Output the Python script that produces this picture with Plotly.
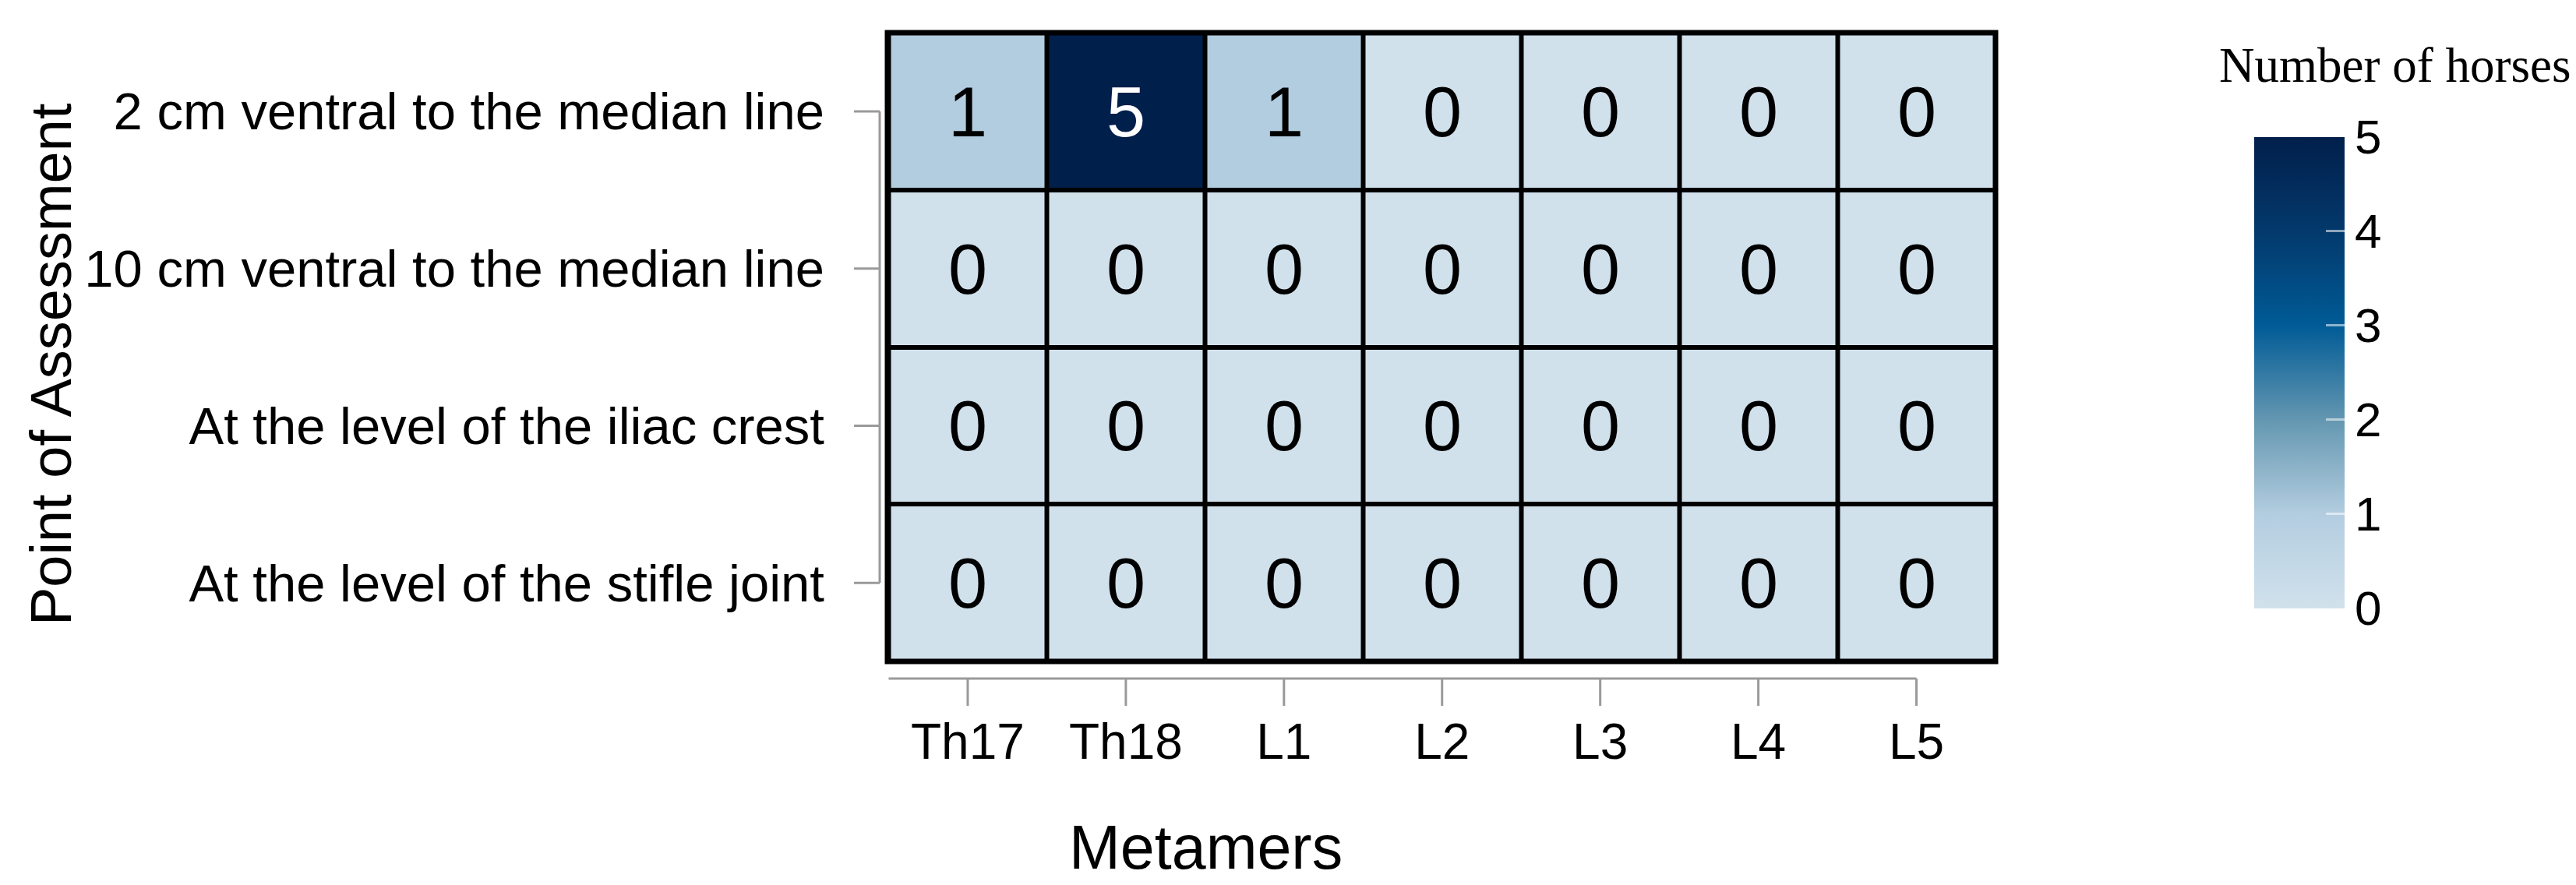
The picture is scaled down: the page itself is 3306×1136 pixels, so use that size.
import plotly.graph_objects as go

# heatmap counts: number of horses per point of assessment and metamer
metamers = ["Th17", "Th18", "L1", "L2", "L3", "L4", "L5"]
points = [
    "2 cm ventral to the median line",
    "10 cm ventral to the median line",
    "At the level of the iliac crest",
    "At the level of the stifle joint",
]
row_2cm = [1, 5, 1, 0, 0, 0, 0]
row_10cm = [0, 0, 0, 0, 0, 0, 0]
row_iliac = [0, 0, 0, 0, 0, 0, 0]
row_stifle = [0, 0, 0, 0, 0, 0, 0]
counts = [row_2cm, row_10cm, row_iliac, row_stifle]
scale_ticks = [0, 1, 2, 3, 4, 5]

blues = [
    [0.0, "#d1e1ec"],
    [0.2, "#b3cde0"],
    [0.4, "#6497b1"],
    [0.6, "#005b96"],
    [0.8, "#03396c"],
    [1.0, "#011f4b"],
]

W, H = 3306, 1136
L, R, T, B = 1131, 753, 34, 295
pw, ph = W - L - R, H - T - B
grey = "#9a9a9a"
sans = "Liberation Sans, Arial, sans-serif"

# colourbar geometry (pixels)
cb_left, cb_thick, cb_mid, cb_len = 2885, 116, 470, 605

# black text on light cells, white on dark ones
cell_text = [
    [f"<span style='color:{'white' if v >= 3 else 'black'}'>{v}</span>" for v in row]
    for row in counts
]

fig = go.Figure(
    go.Heatmap(
        z=counts,
        x=metamers,
        y=points,
        zmin=0,
        zmax=5,
        colorscale=blues,
        xgap=6,
        ygap=6,
        text=cell_text,
        texttemplate="%{text}",
        textfont=dict(family=sans, size=90),
        colorbar=dict(
            thickness=cb_thick,
            thicknessmode="pixels",
            len=cb_len,
            lenmode="pixels",
            x=(cb_left - L) / pw,
            xanchor="left",
            xpad=0,
            y=(H - B - cb_mid) / ph,
            yanchor="middle",
            ypad=0,
            outlinewidth=0,
            tickvals=scale_ticks,
            ticks="inside",
            ticklen=24,
            tickwidth=3,
            tickcolor="rgba(255,255,255,0.55)",
            tickfont=dict(family=sans, size=62, color="black"),
        ),
    )
)

shapes = [
    # cell frame
    dict(type="rect", xref="paper", yref="paper", x0=0, x1=1, y0=0, y1=1,
         line=dict(color="black", width=7)),
]
# offset axis lines in grey with ticks
ax_y = (1121 - L) / pw
tick_y0 = (1088 - L) / pw
shapes.append(dict(type="line", xref="paper", yref="y", x0=ax_y, x1=ax_y,
                   y0=0, y1=len(points) - 1, line=dict(color=grey, width=3)))
for i in range(len(points)):
    shapes.append(dict(type="line", xref="paper", yref="y", x0=tick_y0, x1=ax_y,
                       y0=i, y1=i, line=dict(color=grey, width=3)))
ax_x = -(863 - (H - B)) / ph
tick_x1 = -(898 - (H - B)) / ph
shapes.append(dict(type="line", xref="x", yref="paper", x0=-0.5, x1=len(metamers) - 1,
                   y0=ax_x, y1=ax_x, line=dict(color=grey, width=3)))
for i in range(len(metamers)):
    shapes.append(dict(type="line", xref="x", yref="paper", x0=i, x1=i,
                       y0=ax_x, y1=tick_x1, line=dict(color=grey, width=3)))

# mirror the colourbar ticks on its left side
cb_bottom = cb_mid + cb_len / 2
for v in scale_ticks[1:-1]:
    yy = cb_bottom - v / scale_ticks[-1] * cb_len
    shapes.append(dict(type="line", xref="paper", yref="paper",
                       x0=(cb_left - L) / pw, x1=(cb_left + 24 - L) / pw,
                       y0=(H - B - yy) / ph, y1=(H - B - yy) / ph,
                       line=dict(color="rgba(255,255,255,0.55)", width=3)))

annotations = [
    dict(text="Metamers", xref="paper", yref="paper", x=(1539 - L) / pw, y=-(1079 - (H - B)) / ph,
         xanchor="center", yanchor="middle", showarrow=False,
         font=dict(family=sans, size=79, color="black")),
    dict(text="Point of Assessment", xref="paper", yref="paper", x=(58 - L) / pw,
         y=(H - B - 460) / ph, xanchor="center", yanchor="middle", textangle=-90,
         showarrow=False, font=dict(family=sans, size=74, color="black")),
    dict(text="Number of horses", xref="paper", yref="paper", x=(2838 - L) / pw,
         y=(H - B - 76) / ph, xanchor="left", yanchor="middle", showarrow=False,
         font=dict(family="Liberation Serif, Times New Roman, serif", size=63, color="black")),
]

fig.update_layout(
    width=W,
    height=H,
    margin=dict(l=L, r=R, t=T, b=B),
    paper_bgcolor="white",
    plot_bgcolor="black",
    shapes=shapes,
    annotations=annotations,
    xaxis=dict(showgrid=False, zeroline=False, showline=False, ticks="",
               ticklabelstandoff=60, tickfont=dict(family=sans, size=64, color="black")),
    yaxis=dict(showgrid=False, zeroline=False, showline=False, ticks="", autorange="reversed",
               ticklabelstandoff=80, tickfont=dict(family=sans, size=67, color="black")),
)

fig.write_html("out.html")
